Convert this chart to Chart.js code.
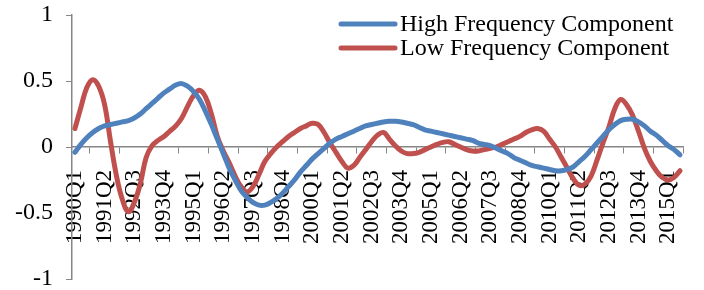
<!DOCTYPE html>
<html>
<head>
<meta charset="utf-8">
<script src="https://cdn.jsdelivr.net/npm/chart.js@4.4.1/dist/chart.umd.min.js"></script>
<style>
  body { margin: 0; background: #fff; }
  #wrap { width: 704px; height: 290px; }
</style>
</head>
<body>
<div id="wrap"><canvas id="canvas" width="704" height="290"></canvas></div>
<script>
// quarters 1990Q1 .. 2015Q3
var quarters = [];
for (var y = 1990; y <= 2015; y++) {
  for (var q = 1; q <= 4; q++) {
    if (y === 2015 && q > 3) break;
    quarters.push(y + 'Q' + q);
  }
}

var yTicks = [-1, -0.5, 0, 0.5, 1];

var highFreq = [
  -0.04, 0.02, 0.07, 0.11, 0.14, 0.16, 0.17, 0.18, 0.19, 0.20,
  0.22, 0.25, 0.29, 0.33, 0.37, 0.41, 0.44, 0.47, 0.48, 0.46,
  0.42, 0.36, 0.27, 0.17, 0.06, -0.05, -0.16, -0.25, -0.33, -0.38,
  -0.42, -0.44, -0.44, -0.42, -0.39, -0.35, -0.30, -0.25, -0.19, -0.14,
  -0.09, -0.05, -0.01, 0.03, 0.06, 0.08, 0.10, 0.12, 0.14, 0.16,
  0.17, 0.18, 0.19, 0.195, 0.195, 0.19, 0.18, 0.17, 0.15, 0.13,
  0.12, 0.11, 0.10, 0.09, 0.08, 0.07, 0.06, 0.05, 0.03, 0.02,
  0.01, -0.01, -0.03, -0.05, -0.08, -0.10, -0.12, -0.14, -0.15, -0.16,
  -0.17, -0.18, -0.18, -0.17, -0.15, -0.11, -0.07, -0.02, 0.03, 0.08,
  0.13, 0.17, 0.20, 0.21, 0.21, 0.19, 0.16, 0.12, 0.09, 0.05,
  0.01, -0.02, -0.06
];

var lowFreq = [
  0.14, 0.30, 0.45, 0.51, 0.46, 0.32, 0.04, -0.22, -0.40, -0.49,
  -0.42, -0.28, -0.08, 0.01, 0.05, 0.08, 0.12, 0.16, 0.22, 0.31,
  0.39, 0.43, 0.38, 0.25, 0.08, -0.03, -0.12, -0.22, -0.30, -0.34,
  -0.30, -0.21, -0.11, -0.05, 0.0, 0.04, 0.08, 0.11, 0.14, 0.16,
  0.18, 0.17, 0.11, 0.03, -0.04, -0.11, -0.16, -0.14, -0.08, -0.02,
  0.04, 0.09, 0.11, 0.06, 0.01, -0.03, -0.05, -0.05, -0.04, -0.02,
  0.0, 0.02, 0.035, 0.04, 0.02, 0.0, -0.02, -0.03, -0.03, -0.02,
  -0.01, 0.0, 0.02, 0.04, 0.06, 0.08, 0.11, 0.13, 0.14, 0.12,
  0.06, 0.0, -0.08, -0.16, -0.24, -0.29, -0.28, -0.22, -0.10, 0.03,
  0.15, 0.29, 0.36, 0.32, 0.24, 0.12, -0.01, -0.11, -0.18, -0.23,
  -0.25, -0.23, -0.18
];

var font = "'Liberation Serif', 'Times New Roman', serif";
var axisGray = '#868686';

// legend drawn inside the plot, top right
var innerLegend = {
  id: 'innerLegend',
  afterDraw: function(chart) {
    var ctx = chart.ctx;
    ctx.save();
    ctx.font = '24px ' + font;
    ctx.textBaseline = 'middle';
    ctx.fillStyle = '#000';
    chart.data.datasets.forEach(function(ds, i) {
      var y = 24 + i * 24;
      ctx.strokeStyle = ds.borderColor;
      ctx.lineWidth = 5;
      ctx.lineCap = 'round';
      ctx.beginPath();
      ctx.moveTo(341, y);
      ctx.lineTo(395, y);
      ctx.stroke();
      ctx.fillText(ds.label, 400, y + 1);
    });
    ctx.restore();
  }
};

function printChart() {
  Chart.defaults.font.family = font;
  Chart.defaults.color = '#000';

  var ctx = document.getElementById('canvas').getContext('2d');
  new Chart(ctx, {
    type: 'line',
    data: {
      labels: quarters,
      datasets: [{
        label: 'High Frequency Component',
        data: highFreq,
        borderColor: '#4F81BD',
        borderWidth: 5,
        pointRadius: 0,
        tension: 0.4,
        borderCapStyle: 'round',
        borderJoinStyle: 'round'
      }, {
        label: 'Low Frequency Component',
        data: lowFreq,
        borderColor: '#C0504D',
        borderWidth: 5,
        pointRadius: 0,
        tension: 0.4,
        borderCapStyle: 'round',
        borderJoinStyle: 'round'
      }]
    },
    options: {
      responsive: false,
      animation: false,
      devicePixelRatio: 1,
      layout: { padding: { top: 15, right: 21, bottom: 11, left: 0 } },
      plugins: {
        legend: { display: false },
        tooltip: { enabled: false }
      },
      scales: {
        x: {
          type: 'category',
          position: { y: 0 },
          offset: true,
          grid: {
            offset: true,
            drawOnChartArea: false,
            tickLength: 6,
            color: axisGray
          },
          border: { color: axisGray, width: 1.5 },
          ticks: {
            autoSkip: false,
            maxRotation: 90,
            minRotation: 90,
            padding: 17,
            font: { size: 23 },
            callback: function(v, i) {
              return i % 5 === 0 ? quarters[i] : null;
            }
          },
          afterFit: function(s) {
            s.height = 0;
            s.paddingLeft = 0; s.paddingRight = 0;
            s.paddingTop = 0; s.paddingBottom = 0;
          }
        },
        y: {
          min: -1,
          max: 1,
          afterBuildTicks: function(s) {
            s.ticks = yTicks.map(function(v) { return { value: v }; });
          },
          grid: {
            drawOnChartArea: false,
            tickLength: 6,
            color: axisGray
          },
          border: { color: axisGray, width: 1.5 },
          ticks: {
            padding: 13,
            font: { size: 24 },
            callback: function(v) { return String(v); }
          },
          afterFit: function(s) {
            s.width = 72;
            s.paddingTop = 0; s.paddingBottom = 0;
          }
        }
      }
    },
    plugins: [innerLegend]
  });
}

printChart();
</script>
</body>
</html>
